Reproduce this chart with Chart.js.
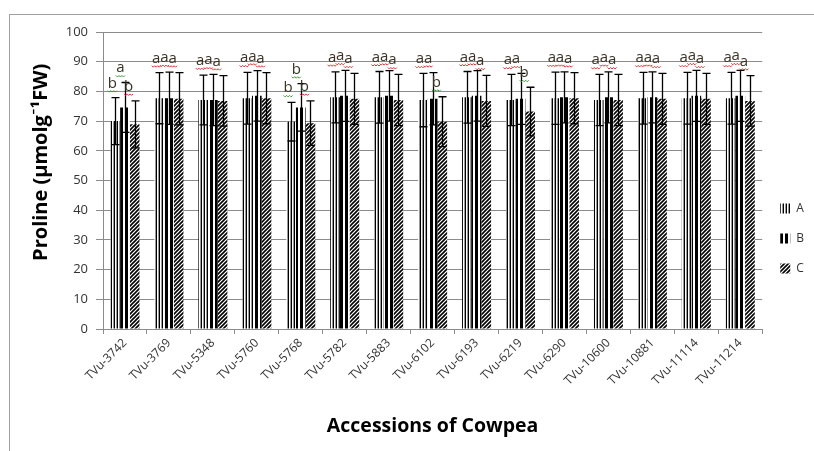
<!DOCTYPE html>
<html>
<head>
<meta charset="utf-8">
<script src="https://cdn.jsdelivr.net/npm/chart.js@4"></script>
<style>
  body { margin: 0; background: #fff; }
  #wrap { position: relative; width: 814px; height: 451px; overflow: hidden; }
  #frame { position: absolute; left: 9px; top: 14px; width: 900px; height: 500px;
           border-left: 1px solid #a0a0a0; border-top: 1px solid #a0a0a0; }
  #grafico { position: absolute; left: 0; top: 0; }
</style>
</head>
<body>
<div id="wrap">
  <div id="frame"></div>
  <canvas id="grafico" width="814" height="451"></canvas>
</div>
<script>
const categorias = ["TVu-3742", "TVu-3769", "TVu-5348", "TVu-5760", "TVu-5768", "TVu-5782", "TVu-5883",
    "TVu-6102", "TVu-6193", "TVu-6219", "TVu-6290", "TVu-10600", "TVu-10881", "TVu-11114", "TVu-11214"];

const serieA = [70, 77.7, 77.1, 77.7, 69.8, 78, 78, 77.1, 78, 77.1, 77.7, 77.1, 77.7, 77.7, 77.7];
const serieB = [74.6, 77.7, 77.1, 78.5, 74.6, 78.5, 78.5, 77.5, 78.5, 77.5, 78, 78, 78, 78.5, 78.5];
const serieC = [68.9, 77.5, 76.8, 77.7, 69.3, 77.5, 77.1, 69.8, 76.8, 73.2, 77.7, 77.1, 77.5, 77.5, 76.8];

const erroA = [7.9, 8.6, 8.4, 8.7, 6.5, 8.6, 8.7, 9.0, 8.7, 8.6, 8.8, 8.6, 8.7, 8.7, 8.7];
const erroB = [8.4, 8.8, 8.6, 8.5, 8.0, 8.6, 8.5, 8.8, 8.5, 8.6, 8.6, 8.6, 8.6, 8.6, 8.6];
const erroC = [7.9, 8.8, 8.5, 8.6, 7.5, 8.6, 8.6, 8.4, 8.6, 8.2, 8.6, 8.6, 8.6, 8.6, 8.5];

// letras de significancia e a cor do sublinhado ondulado (r = vermelho, g = verde)
const letrasA = ["b", "a", "a", "a", "b", "a", "a", "a", "a", "a", "a", "a", "a", "a", "a"];
const letrasB = ["a", "a", "a", "a", "b", "a", "a", "a", "a", "a", "a", "a", "a", "a", "a"];
const letrasC = ["b", "a", "a", "a", "b", "a", "a", "b", "a", "b", "a", "a", "a", "a", "a"];
const ondaA = ["g", "r", "r", "r", "g", "r", "r", "r", "r", "r", "r", "r", "r", "r", "r"];
const ondaB = ["g", "r", "r", "r", "g", "r", "r", "r", "r", "r", "r", "r", "r", "r", "r"];
const ondaC = ["r", "r", "r", "r", "r", "r", "r", "g", "r", "g", "r", "r", "r", "r", "r"];

const fonte = "'Open Sans', Lato, sans-serif";
const cinza = "#8c8c8c";

const criarPadrao = (tipo) => {
    const c = document.createElement("canvas");
    const g = c.getContext("2d");
    if (tipo === "A") {
        c.width = 3; c.height = 4;
        g.fillStyle = "#fff"; g.fillRect(0, 0, 3, 4);
        g.fillStyle = "#000"; g.fillRect(0, 0, 1, 4);
        g.fillStyle = "#9a9a9a"; g.fillRect(2, 0, 1, 4);
    } else if (tipo === "B") {
        c.width = 5; c.height = 4;
        g.fillStyle = "#fff"; g.fillRect(0, 0, 5, 4);
        g.fillStyle = "#000"; g.fillRect(0, 0, 3, 4);
    } else {
        c.width = 4; c.height = 4;
        g.fillStyle = "#fff"; g.fillRect(0, 0, 4, 4);
        g.strokeStyle = "#000"; g.lineWidth = 1.6;
        g.beginPath();
        g.moveTo(-1, 5); g.lineTo(5, -1);
        g.moveTo(-1, 1); g.lineTo(1, -1);
        g.moveTo(3, 5); g.lineTo(5, 3);
        g.stroke();
    }
    return g.createPattern(c, "repeat");
};

const barrasErro = {
    id: "barrasErro",
    afterDatasetsDraw(chart) {
        const ctx = chart.ctx;
        const y = chart.scales.y;
        const erros = [erroA, erroB, erroC];
        const letras = [letrasA, letrasB, letrasC];
        const ondas = [ondaA, ondaB, ondaC];
        ctx.save();
        chart.data.datasets.forEach((ds, i) => {
            const meta = chart.getDatasetMeta(i);
            meta.data.forEach((bar, j) => {
                const v = ds.data[j];
                const topo = y.getPixelForValue(v + erros[i][j]);
                const base = y.getPixelForValue(v - erros[i][j]);
                const x = Math.round(bar.x) + 0.5;
                ctx.strokeStyle = "#000";
                ctx.lineWidth = 1.3;
                ctx.beginPath();
                ctx.moveTo(x, topo); ctx.lineTo(x, base);
                ctx.moveTo(x - 4, topo); ctx.lineTo(x + 4, topo);
                ctx.moveTo(x - 4, base); ctx.lineTo(x + 4, base);
                ctx.stroke();

                // letra acima da barra de erro
                const lx = bar.x - 3 - 1.5 * i;
                const ly = topo - 10;
                ctx.fillStyle = "#3b3226";
                ctx.font = "15px " + fonte;
                ctx.textAlign = "center";
                ctx.textBaseline = "alphabetic";
                ctx.fillText(letras[i][j], lx, ly);
                ctx.strokeStyle = ondas[i][j] === "r" ? "#e03030" : "#3a9a3a";
                ctx.lineWidth = 1;
                ctx.beginPath();
                for (let k = 0; k <= 6; k++) {
                    const px = lx - 4.5 + k * 1.5;
                    const py = ly + 3 + (k % 2 === 0 ? 0 : 1.5);
                    if (k === 0) ctx.moveTo(px, py); else ctx.lineTo(px, py);
                }
                ctx.stroke();
            });
        });
        ctx.restore();
    }
};

const ctx = document.getElementById("grafico").getContext("2d");

new Chart(ctx, {
    type: "bar",
    data: {
        labels: categorias,
        datasets: [
            { label: "A", data: serieA, backgroundColor: criarPadrao("A"), borderWidth: 0 },
            { label: "B", data: serieB, backgroundColor: criarPadrao("B"), borderWidth: 0 },
            { label: "C", data: serieC, backgroundColor: criarPadrao("C"), borderWidth: 0 }
        ]
    },
    plugins: [barrasErro],
    options: {
        responsive: false,
        animation: false,
        events: [],
        layout: { padding: { left: 0, top: 32, right: 0, bottom: 6 } },
        datasets: { bar: { categoryPercentage: 0.66, barPercentage: 1 } },
        plugins: {
            tooltip: { enabled: false },
            legend: {
                position: "right",
                labels: {
                    boxWidth: 10, boxHeight: 10, padding: 18,
                    color: "#333", font: { family: fonte, size: 12 }
                }
            }
        },
        scales: {
            y: {
                min: 0, max: 100,
                ticks: { stepSize: 10, color: "#333", padding: 8, font: { family: fonte, size: 13 } },
                grid: { color: cinza, tickLength: 7, tickColor: cinza },
                border: { color: cinza },
                title: {
                    display: true, text: "       Proline (µmolg⁻¹FW)", color: "#000",
                    padding: { top: 29, bottom: 0 },
                    font: { family: fonte, size: 20, weight: "bold" }
                },
                afterFit: (s) => { s.width = 103; }
            },
            x: {
                ticks: { color: "#333", maxRotation: 45, minRotation: 45, padding: 2, font: { family: fonte, size: 12 } },
                grid: { drawOnChartArea: false, offset: true, tickLength: 5, color: cinza },
                border: { color: cinza },
                title: {
                    display: true, text: "Accessions of Cowpea", color: "#000",
                    padding: { top: 0, bottom: 7 },
                    font: { family: fonte, size: 19.5, weight: "bold" }
                },
                afterFit: (s) => { s.height = 116; }
            }
        }
    }
});
</script>
</body>
</html>
